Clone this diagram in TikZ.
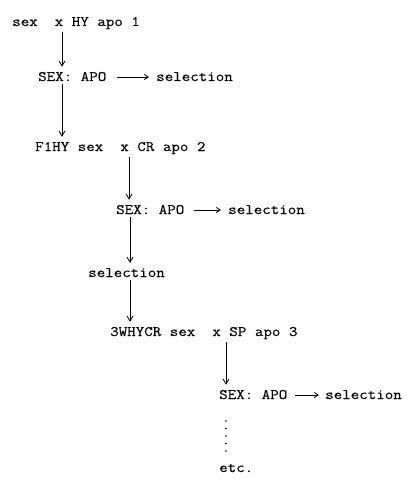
\documentclass[tikz,border=0pt]{standalone}
\usepackage{fontspec}
\setmonofont{Latin Modern Mono}[FakeStretch=1.14,FakeBold=0.15]
\usetikzlibrary{arrows.meta}
\begin{document}
\begin{tikzpicture}[x=1pt,y=-1pt,
  txt/.style={anchor=base west, inner sep=0pt, font=\ttfamily\fontsize{14.5}{17}\selectfont},
  varr/.style={-{Straight Barb[length=5pt,width=6pt]}, line width=0.85pt},
  harr/.style={-{Straight Barb[length=4pt,width=5pt]}, line width=0.8pt}]
\useasboundingbox (0,0) rectangle (410,484);
% columns of the vertical connectors
\coordinate (c1) at (62,0);
\coordinate (c2) at (129,0);
\coordinate (c3) at (130,0);
\coordinate (c4) at (226,0);
% texts
\node[txt] (l1) at (12,26) {sex\ \ x HY apo 1};
\node[txt] (s1) at (38,81) {SEX: APO};
\node[txt] (t1) at (156,81) {selection};
\node[txt] (l3) at (35,151) {F1HY sex\ \ x CR apo 2};
\node[txt] (s2) at (116,214) {SEX: APO};
\node[txt] (t2) at (228,214) {selection};
\node[txt] (sel) at (88,277) {selection};
\node[txt] (l5) at (110,336) {3WHYCR sex\ \ x SP apo 3};
\node[txt] (s3) at (219,399) {SEX: APO};
\node[txt] (t3) at (325,399) {selection};
\node[txt] (etc) at (219,472) {etc.};
% vertical connectors
\draw[varr] ([yshift=-3pt]l1.south -| c1) -- ([yshift=5pt]s1.north -| c1);
\draw[varr] ([yshift=-3pt]s1.south -| c1) -- ([yshift=5pt]l3.north -| c1);
\draw[varr] ([yshift=-3pt]l3.south -| c2) -- ([yshift=5pt]s2.north -| c2);
\draw[varr] ([yshift=-3pt]s2.south -| c3) -- ([yshift=5pt]sel.north -| c3);
\draw[varr] ([yshift=-3pt]sel.south -| c3) -- ([yshift=5pt]l5.north -| c3);
\draw[varr] ([yshift=-3pt]l5.south -| c4) -- ([yshift=5pt]s3.north -| c4);
% horizontal connectors
\draw[harr] ([shift={(10,-4)}]s1.base east) -- ([shift={(-7,-4)}]t1.base west);
\draw[harr] ([shift={(9.5,-4)}]s2.base east) -- ([shift={(-7,-4)}]t2.base west);
\draw[harr] ([shift={(7.5,-4)}]s3.base east) -- ([shift={(-6,-4)}]t3.base west);
% vertical dots
\foreach \y in {421,428.5,436,443.5,451} \fill (226,\y) circle (0.9);
\end{tikzpicture}
\end{document}
